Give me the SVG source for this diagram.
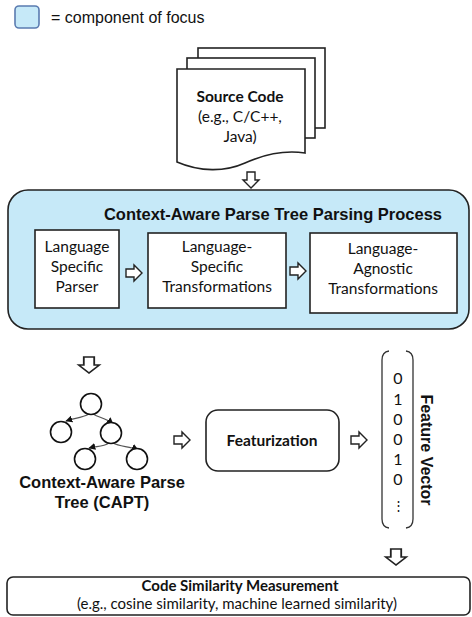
<svg xmlns="http://www.w3.org/2000/svg" width="472" height="617" viewBox="0 0 472 617">
<defs>
<style>
.box{fill:#fff;stroke:#222;stroke-width:1.6}
.focus{fill:#c6e9f8;stroke:#222;stroke-width:1.6}
.arr{fill:#fff;stroke:#222;stroke-width:1.4;stroke-linejoin:miter}
.edge{fill:none;stroke:#555;stroke-width:1.2}
.node{fill:#fff;stroke:#111;stroke-width:1.6}
.cal{font-family:Lato,"Open Sans",sans-serif;fill:#111}
.ari{font-family:"Liberation Sans",Arial,sans-serif;fill:#111}
.b{font-weight:bold}
</style>
<path id="ra" d="M-8,-4 L0,-4 L0,-8 L8,0 L0,8 L0,4 L-8,4 Z"/>
<marker id="ah" viewBox="0 0 10 10" refX="9" refY="5" markerWidth="7" markerHeight="7" orient="auto" markerUnits="userSpaceOnUse">
<path d="M0,0 L10,5 L0,10 Z" fill="#111"/>
</marker>
</defs>

<g id="legend">
<rect x="15" y="6" width="24" height="22" rx="4" fill="#c6e9f8" stroke="#5a7bb0" stroke-width="1.6"/>
<text class="ari" x="51" y="23" font-size="16">= component of focus</text>
</g>

<g id="source-code">
<rect class="box" x="198" y="48" width="127" height="80"/>
<rect class="box" x="187" y="58" width="128" height="80"/>
<path class="box" d="M177,69 L305,69 L305,153 C285,150 265,154 245,163 C225,172 200,172 177,162 Z"/>
<text class="cal b" x="240" y="102" font-size="15.5" text-anchor="middle">Source Code</text>
<text class="cal" x="240" y="122" font-size="15.5" text-anchor="middle">(e.g., C/C++,</text>
<text class="cal" x="240" y="142" font-size="15.5" text-anchor="middle">Java)</text>
</g>

<g id="parsing-process">
<rect class="focus" x="8" y="190" width="461" height="139" rx="20"/>
<text class="ari b" x="273" y="220" font-size="16.5" text-anchor="middle">Context-Aware Parse Tree Parsing Process</text>
</g>

<g id="lang-parser">
<rect class="box" x="35" y="230" width="84" height="78"/>
<text class="cal" x="77" y="252" font-size="15.5" text-anchor="middle">Language</text>
<text class="cal" x="77" y="272" font-size="15.5" text-anchor="middle">Specific</text>
<text class="cal" x="77" y="292" font-size="15.5" text-anchor="middle">Parser</text>
</g>

<g id="lang-specific">
<rect class="box" x="148" y="233" width="138" height="75"/>
<text class="cal" x="217" y="252" font-size="15.5" text-anchor="middle">Language-</text>
<text class="cal" x="217" y="272" font-size="15.5" text-anchor="middle">Specific</text>
<text class="cal" x="217" y="292" font-size="15.5" text-anchor="middle">Transformations</text>
</g>

<g id="lang-agnostic">
<rect class="box" x="310" y="233" width="147" height="80"/>
<text class="cal" x="383" y="254" font-size="15.5" text-anchor="middle">Language-</text>
<text class="cal" x="383" y="274" font-size="15.5" text-anchor="middle">Agnostic</text>
<text class="cal" x="383" y="294" font-size="15.5" text-anchor="middle">Transformations</text>
</g>

<g id="capt">
<path class="edge" d="M89,414 C82,418 75,418 66,421" marker-end="url(#ah)"/>
<path class="edge" d="M93,414 C100,418 106,418 113,424" marker-end="url(#ah)"/>
<path class="edge" d="M109,443 C103,447 97,446 89,448" marker-end="url(#ah)"/>
<path class="edge" d="M113,443 C120,447 130,446 138,450" marker-end="url(#ah)"/>
<circle class="node" cx="91" cy="404" r="10.5"/>
<circle class="node" cx="61" cy="432" r="10.5"/>
<circle class="node" cx="111" cy="433" r="10.5"/>
<circle class="node" cx="85" cy="459" r="10.5"/>
<circle class="node" cx="137" cy="459" r="10.5"/>
<text class="ari b" x="102" y="488" font-size="16.5" text-anchor="middle">Context-Aware Parse</text>
<text class="ari b" x="102" y="508" font-size="16.5" text-anchor="middle">Tree (CAPT)</text>
</g>

<g id="featurization">
<rect class="box" x="206" y="410" width="133" height="61" rx="12"/>
<text class="cal b" x="272" y="446" font-size="15.5" text-anchor="middle">Featurization</text>
</g>

<g id="feature-vector">
<path fill="none" stroke="#333" stroke-width="1.3" d="M389,351 Q382,352 382,360 L382,519 Q382,527 389,528"/>
<path fill="none" stroke="#333" stroke-width="1.3" d="M406,351 Q413,352 413,360 L413,519 Q413,527 406,528"/>
<g class="cal" font-size="16" text-anchor="middle">
<text x="398" y="384">0</text>
<text x="398" y="405">1</text>
<text x="398" y="425">0</text>
<text x="398" y="445">0</text>
<text x="398" y="465">1</text>
<text x="398" y="485">0</text>
</g>
<text class="cal" x="398" y="510" font-size="13" text-anchor="middle">⋮</text>
<text class="ari b" font-size="16" text-anchor="middle" transform="translate(421,450) rotate(90)">Feature Vector</text>
</g>

<g id="similarity">
<rect class="box" x="7" y="577" width="463" height="38" rx="6"/>
<text class="cal b" x="240" y="591" font-size="15" text-anchor="middle">Code Similarity Measurement</text>
<text class="cal" x="237" y="609" font-size="15" text-anchor="middle">(e.g., cosine similarity, machine learned similarity)</text>
</g>

<g id="connectors">
<use href="#ra" class="arr" transform="translate(251,180) rotate(90)"/>
<use href="#ra" class="arr" transform="translate(134,273)"/>
<use href="#ra" class="arr" transform="translate(298,271)"/>
<use href="#ra" class="arr" transform="translate(89,365) rotate(90) scale(1,1.3)"/>
<use href="#ra" class="arr" transform="translate(182,440)"/>
<use href="#ra" class="arr" transform="translate(359,440)"/>
<use href="#ra" class="arr" transform="translate(396,557) rotate(90) scale(1,1.3)"/>
</g>
</svg>
